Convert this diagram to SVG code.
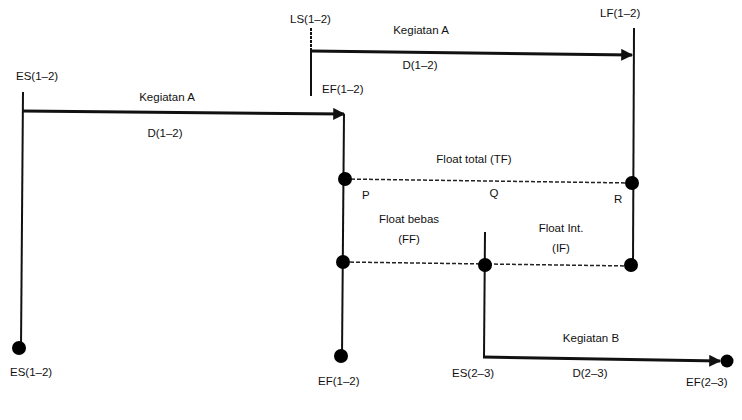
<svg xmlns="http://www.w3.org/2000/svg" width="742" height="420" viewBox="0 0 742 420">
<defs>
<style>
text{font-family:"Liberation Sans",Arial,sans-serif;font-size:11.5px;fill:#111;}
.m{text-anchor:middle;}
.v{stroke:#111;stroke-width:2;fill:none;}
.a{stroke:#111;stroke-width:3;fill:none;}
.d{stroke:#222;stroke-width:1.5;stroke-dasharray:4 2;fill:none;}
.dot{fill:#000;}
</style>
<marker id="ah" viewBox="0 0 10 10" refX="9" refY="5" markerWidth="4.5" markerHeight="4" orient="auto" markerUnits="strokeWidth">
<path d="M0,0 L10,5 L0,10 z" fill="#111"/>
</marker>
</defs>
<rect width="742" height="420" fill="#fff"/>
<g id="connectors">
<line class="v" x1="23" y1="92" x2="21" y2="348"/>
<line class="a" x1="22" y1="111" x2="344" y2="114" marker-end="url(#ah)"/>
<line class="v" x1="344" y1="114" x2="342" y2="356"/>
<line class="v" x1="311" y1="28" x2="311" y2="48" stroke-dasharray="3 1" stroke-width="1.2"/>
<line class="v" x1="311" y1="48" x2="311" y2="96"/>
<line class="a" x1="311" y1="51" x2="632" y2="55" marker-end="url(#ah)"/>
<line class="v" x1="634" y1="28" x2="633" y2="265"/>
<line class="d" x1="345" y1="179" x2="632" y2="183"/>
<line class="d" x1="344" y1="262" x2="631" y2="266"/>
<line class="v" x1="485" y1="232" x2="484" y2="357"/>
<line class="a" x1="483" y1="357" x2="720" y2="361" marker-end="url(#ah)"/>
</g>
<g id="node-es12-top"><text x="16" y="80">ES(1–2)</text></g>
<g id="node-ls12"><text x="290" y="23">LS(1–2)</text></g>
<g id="node-lf12"><text x="600" y="17">LF(1–2)</text></g>
<g id="node-ef12-mid"><text x="322" y="93">EF(1–2)</text></g>
<g id="label-a1"><text class="m" x="167" y="101">Kegiatan A</text><text class="m" x="165" y="137">D(1–2)</text></g>
<g id="label-a2"><text class="m" x="421" y="34">Kegiatan A</text><text class="m" x="420" y="69">D(1–2)</text></g>
<g id="node-p"><circle class="dot" cx="345" cy="179" r="7"/><text x="362" y="199">P</text></g>
<g id="node-r"><circle class="dot" cx="632" cy="183" r="7"/><text x="614" y="203">R</text></g>
<g id="node-fb"><circle class="dot" cx="343" cy="262" r="7"/></g>
<g id="node-q"><circle class="dot" cx="485" cy="265" r="7"/><text class="m" x="494" y="197">Q</text></g>
<g id="node-fr"><circle class="dot" cx="631" cy="265" r="7"/></g>
<g id="label-tf"><text class="m" x="474" y="163">Float total (TF)</text></g>
<g id="label-ff"><text class="m" x="409" y="223">Float bebas</text><text class="m" x="409" y="243">(FF)</text></g>
<g id="label-if"><text class="m" x="561" y="232">Float Int.</text><text class="m" x="561" y="252">(IF)</text></g>
<g id="node-es12-bot"><circle class="dot" cx="19" cy="348" r="7"/><text x="10" y="376">ES(1–2)</text></g>
<g id="node-ef12-bot"><circle class="dot" cx="341" cy="356" r="7"/><text x="318" y="385">EF(1–2)</text></g>
<g id="node-es23"><text x="452" y="377">ES(2–3)</text></g>
<g id="label-b"><text class="m" x="591" y="342">Kegiatan B</text><text class="m" x="590" y="377">D(2–3)</text></g>
<g id="node-ef23"><circle class="dot" cx="727" cy="361" r="6.5"/><text x="686" y="386">EF(2–3)</text></g>
</svg>
